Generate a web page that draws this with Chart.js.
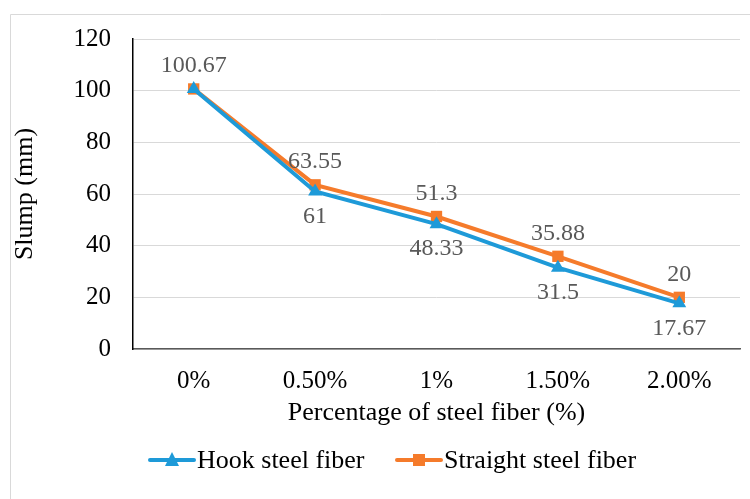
<!DOCTYPE html>
<html>
<head>
<meta charset="utf-8">
<script src="https://cdn.jsdelivr.net/npm/chart.js@4"></script>
<style>
html,body{margin:0;padding:0;background:#fff;}
#wrap{width:750px;height:499px;position:relative;}
</style>
</head>
<body>
<div id="wrap"><canvas id="c" width="750" height="499"></canvas></div>
<script>
const categories = ['0%', '0.50%', '1%', '1.50%', '2.00%'];
const hookValues = [100.67, 61, 48.33, 31.5, 17.67];
const straightValues = [100.67, 63.55, 51.3, 35.88, 20];
const hookLabelShown = [false, true, true, true, true];
const yTicks = [0, 20, 40, 60, 80, 100, 120];

const FONT = "'Liberation Serif', 'Times New Roman', serif";
const BLUE = '#1E9AD8';
const ORANGE = '#F57B2B';

const framePlugin = {
  id: 'frame',
  beforeDraw(chart) {
    const ctx = chart.ctx;
    ctx.save();
    ctx.strokeStyle = '#d9d9d9';
    ctx.lineWidth = 1;
    ctx.beginPath();
    ctx.moveTo(10.5, 499);
    ctx.lineTo(10.5, 14.5);
    ctx.lineTo(750, 14.5);
    ctx.stroke();
    ctx.restore();
  }
};

const labelPlugin = {
  id: 'valueLabels',
  afterDatasetsDraw(chart) {
    const ctx = chart.ctx;
    ctx.save();
    ctx.font = '24px ' + FONT;
    ctx.fillStyle = '#595959';
    ctx.textAlign = 'center';
    ctx.textBaseline = 'middle';
    chart.data.datasets.forEach((ds, di) => {
      const meta = chart.getDatasetMeta(di);
      meta.data.forEach((pt, i) => {
        if (ds.labelShown && !ds.labelShown[i]) return;
        const off = ds.labelPos === 'below' ? 25 : -23;
        ctx.fillText(String(ds.data[i]), pt.x, pt.y + off);
      });
    });
    ctx.restore();
  }
};

const legendPlugin = {
  id: 'customLegend',
  afterDraw(chart) {
    const ctx = chart.ctx;
    const y = 460;
    const items = [
      { x: 150, ds: chart.data.datasets[0] },
      { x: 397, ds: chart.data.datasets[1] }
    ];
    ctx.save();
    items.forEach(it => {
      const ds = it.ds;
      ctx.strokeStyle = ds.borderColor;
      ctx.lineWidth = 4;
      ctx.lineCap = 'round';
      ctx.beginPath();
      ctx.moveTo(it.x, y);
      ctx.lineTo(it.x + 44, y);
      ctx.stroke();
      ctx.fillStyle = ds.borderColor;
      const cx = it.x + 22;
      if (ds.pointStyle === 'triangle') {
        ctx.beginPath();
        ctx.moveTo(cx, y - 8);
        ctx.lineTo(cx + 7, y + 6);
        ctx.lineTo(cx - 7, y + 6);
        ctx.closePath();
        ctx.fill();
      } else {
        ctx.fillRect(cx - 6, y - 6, 12, 12);
      }
      ctx.fillStyle = '#000';
      ctx.font = '26px ' + FONT;
      ctx.textAlign = 'left';
      ctx.textBaseline = 'middle';
      ctx.fillText(ds.label, it.x + 47, y + 1);
    });
    ctx.restore();
  }
};

new Chart(document.getElementById('c'), {
  type: 'line',
  data: {
    labels: categories,
    datasets: [
      {
        label: 'Hook steel fiber',
        data: hookValues,
        borderColor: BLUE,
        backgroundColor: BLUE,
        borderWidth: 4,
        pointStyle: 'triangle',
        pointRadius: 8,
        pointBorderWidth: 0,
        labelPos: 'below',
        labelShown: hookLabelShown,
        tension: 0
      },
      {
        label: 'Straight steel fiber',
        data: straightValues,
        borderColor: ORANGE,
        backgroundColor: ORANGE,
        borderWidth: 4,
        pointStyle: 'rect',
        pointRadius: 8,
        pointBorderWidth: 0,
        labelPos: 'above',
        tension: 0
      }
    ]
  },
  options: {
    responsive: false,
    animation: false,
    devicePixelRatio: 1,
    layout: { padding: { left: 10, top: 39, right: 10, bottom: 70 } },
    plugins: { legend: { display: false }, tooltip: { enabled: false } },
    scales: {
      x: {
        offset: true,
        grid: { display: false, drawTicks: false },
        border: { display: true, color: '#595959', width: 1.5 },
        ticks: { font: { family: FONT, size: 25 }, color: '#000', padding: 17 },
        title: { display: true, text: 'Percentage of steel fiber (%)', font: { family: FONT, size: 26 }, color: '#000', padding: { top: 2, bottom: 0 } },
        afterFit(s) { s.height = 80; }
      },
      y: {
        min: 0, max: 120,
        afterBuildTicks(s) { s.ticks = yTicks.map(v => ({ value: v })); },
        grid: { color: '#d9d9d9', lineWidth: 1, drawTicks: false },
        border: { display: true, color: '#000', width: 1.5 },
        ticks: { font: { family: FONT, size: 25 }, color: '#000', padding: 22 },
        title: { display: true, text: 'Slump (mm)', font: { family: FONT, size: 26 }, color: '#000', padding: { top: 0, bottom: 4 } },
        afterFit(s) { s.width = 123; }
      }
    }
  },
  plugins: [framePlugin, labelPlugin, legendPlugin]
});
</script>
</body>
</html>
